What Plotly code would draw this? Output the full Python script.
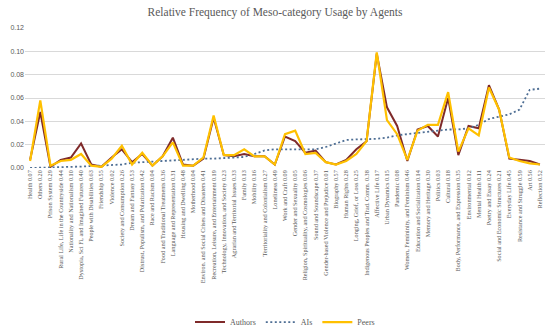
import plotly.graph_objects as go

categories = [
    "Health 0.07", "Others 0.20", "Prison System 0.29", "Rural Life, Life in the Countryside 0.44",
    "Nationality and Nationalism 0.10", "Dystopia, Sci Fi, and Imagined Futures 0.40",
    "People with Disabilities 0.63", "Friendship 0.55", "Violence 0.02",
    "Society and Consumption 0.26", "Dream and Fantasy 0.53",
    "Distrust, Populism, and Polarization 0.42", "Race and Racism 0.04",
    "Food and Traditional Treatments 0.36", "Language and Representation 0.31",
    "Housing and Dwelling 0.48", "Motherhood 0.04",
    "Environ. and Social Crises and Disasters 0.41",
    "Recreation, Leisure, and Entertainment 0.19",
    "Technology, Innovation, and Society 0.23", "Agrarian and Territorial Issues 0.33",
    "Family 0.13", "Mobility 0.16", "Territoriality and Colonialism 0.27",
    "Loneliness 0.49", "Work and Craft 0.09", "Gender and Sexuality 0.05",
    "Religion, Spirituality, and Cosmologies 0.06", "Sound and Soundscape 0.37",
    "Gender-based Violence and Prejudice 0.01", "Biography 0.57", "Human Rights 0.28",
    "Longing, Grief, or Loss 0.25", "Indigenous Peoples and Trad. Comm. 0.38",
    "Affective Life 0.17", "Urban Dynamics 0.15", "Pandemic 0.08",
    "Women, Femininity, and Feminism 0.46", "Education and Socialization 0.14",
    "Memory and Heritage 0.30", "Politics 0.03", "Cultural 0.18",
    "Body, Performance, and Expression 0.35", "Environmental 0.12", "Mental Health 0.11",
    "Poetry and Essay 0.24", "Social and Economic Structures 0.21", "Everyday Life 0.45",
    "Resistance and Struggle 0.59", "Art 0.56", "Reflection 0.52",
]

authors = [0.007, 0.048, 0.001, 0.007, 0.009, 0.021, 0.003, 0.001, 0.009, 0.016,
           0.005, 0.012, 0.002, 0.010, 0.026, 0.003, 0.002, 0.008, 0.043, 0.011,
           0.010, 0.012, 0.010, 0.010, 0.003, 0.027, 0.023, 0.013, 0.015, 0.005,
           0.003, 0.007, 0.016, 0.023, 0.098, 0.052, 0.036, 0.006, 0.033, 0.036,
           0.027, 0.060, 0.011, 0.036, 0.034, 0.071, 0.050, 0.008, 0.007, 0.006, 0.003]

ais = [0.000, 0.0001, 0.0004, 0.0007, 0.001, 0.0012, 0.0015, 0.002, 0.0025, 0.003,
       0.0045, 0.005, 0.0055, 0.006, 0.007, 0.0075, 0.0078, 0.008, 0.008, 0.0085,
       0.009, 0.0095, 0.012, 0.015, 0.016, 0.016, 0.016, 0.016, 0.016, 0.018,
       0.021, 0.024, 0.0245, 0.0245, 0.025, 0.026, 0.028, 0.029, 0.030, 0.031,
       0.032, 0.033, 0.033, 0.034, 0.037, 0.042, 0.044, 0.046, 0.050, 0.067, 0.068]

peers = [0.006, 0.058, 0.002, 0.006, 0.007, 0.012, 0.002, 0.001, 0.008, 0.019,
         0.003, 0.013, 0.002, 0.010, 0.022, 0.002, 0.002, 0.009, 0.045, 0.011,
         0.011, 0.016, 0.010, 0.010, 0.003, 0.029, 0.032, 0.012, 0.013, 0.005,
         0.003, 0.006, 0.012, 0.023, 0.099, 0.041, 0.029, 0.007, 0.032, 0.037,
         0.037, 0.065, 0.014, 0.034, 0.028, 0.069, 0.050, 0.009, 0.006, 0.004, 0.003]

y_ticks = [0.00, 0.02, 0.04, 0.06, 0.08, 0.10, 0.12]

SERIF = "Liberation Serif"
SANS = "Liberation Sans"
GRAY = "#595959"

fig = go.Figure()
fig.add_trace(go.Scatter(x=categories, y=authors, mode="lines", name="Authors",
                         line=dict(color="#7F2A2A", width=2)))
fig.add_trace(go.Scatter(x=categories, y=ais, mode="lines", name="AIs",
                         line=dict(color="#4E6E94", width=1.8, dash="2px,2.5px")))
fig.add_trace(go.Scatter(x=categories, y=peers, mode="lines", name="Peers",
                         line=dict(color="#FFC000", width=2.2)))

fig.update_layout(
    width=550, height=332,
    margin=dict(l=25, r=5, t=28, b=164),
    paper_bgcolor="white", plot_bgcolor="white",
    title=dict(text="Relative Frequency of Meso-category Usage by Agents",
               x=0.5, xanchor="center", y=0.965, yanchor="middle",
               font=dict(family=SERIF, size=11.5, color=GRAY)),
    showlegend=True,
    legend=dict(orientation="h", x=0.5, xanchor="center", y=0.03, yref="container",
                yanchor="middle", itemwidth=30, tracegroupgap=0,
                font=dict(family=SERIF, size=8, color=GRAY)),
    xaxis=dict(type="category", tickangle=-90, showgrid=False, showline=False,
               zeroline=False, ticks="", range=[-0.5, len(categories) - 0.5],
               tickfont=dict(family=SERIF, size=6.2, color=GRAY)),
    yaxis=dict(range=[0, 0.12], tickvals=y_ticks, tickformat=".2f",
               showgrid=True, gridcolor="#D9D9D9", gridwidth=1, zeroline=False,
               showline=False, ticks="",
               tickfont=dict(family=SANS, size=7, color=GRAY)),
)

fig.write_html("out.html", config={"displayModeBar": False},
               post_script="document.body.style.margin='0';document.body.style.padding='0';")
